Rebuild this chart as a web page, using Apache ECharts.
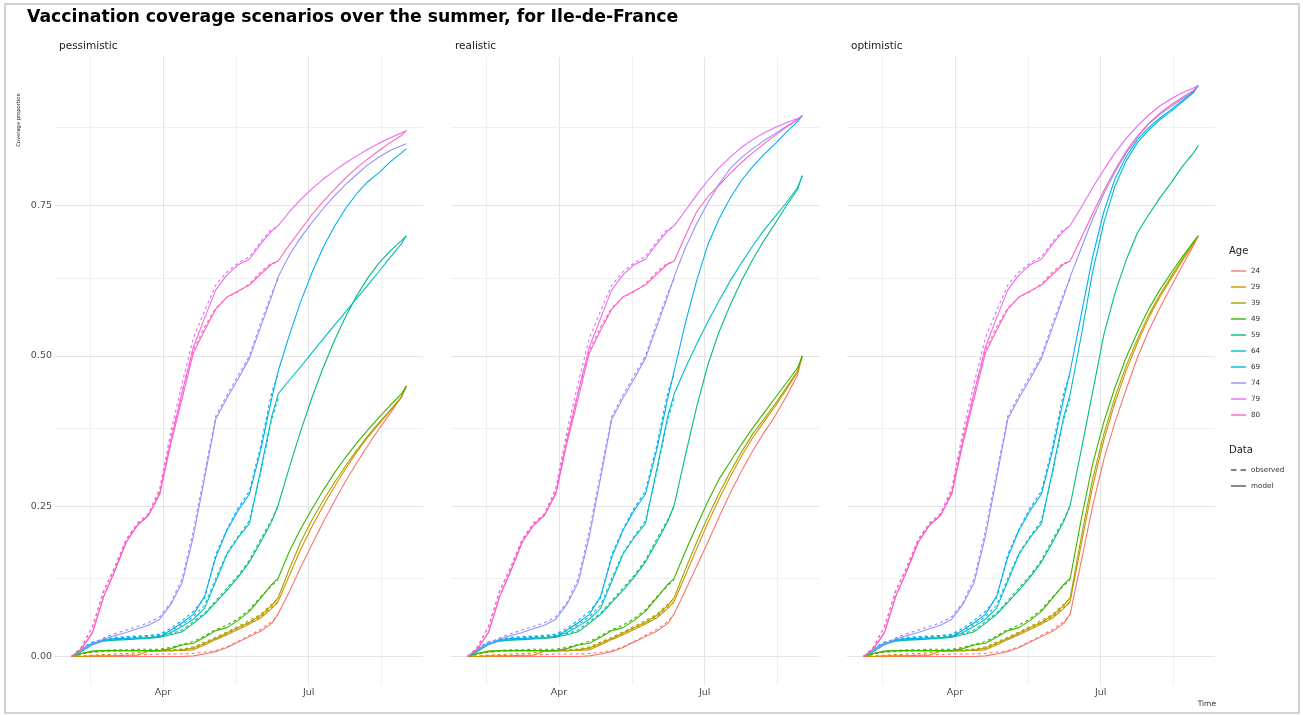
<!DOCTYPE html>
<html>
<head>
<meta charset="utf-8">
<title>Vaccination coverage scenarios</title>
<script src="https://cdn.jsdelivr.net/npm/echarts@6/dist/echarts.min.js"></script>
<style>
  html, body { margin: 0; padding: 0; background: #ffffff; }
  #chart { width: 1303px; height: 715px; }
</style>
</head>
<body>
<div id="chart"></div>
<script>
// Age groups and their ggplot-style hue colours
const ages = ['24', '29', '39', '49', '59', '64', '69', '74', '79', '80'];
const ageColors = ['#F8766D', '#D89000', '#A3A500', '#39B600', '#00BF7D',
                   '#00BFC4', '#00B0F6', '#9590FF', '#E76BF3', '#FF62BC'];
const scenarios = ['pessimistic', 'realistic', 'optimistic'];

// Dates of the observed period (model fitted on it) and of the projection
const histDates = ['2021-02-03', '2021-02-09', '2021-02-16', '2021-02-23', '2021-03-02',
                   '2021-03-09', '2021-03-16', '2021-03-23', '2021-03-30', '2021-04-06',
                   '2021-04-13', '2021-04-20', '2021-04-27', '2021-05-04', '2021-05-11',
                   '2021-05-18', '2021-05-25', '2021-06-01', '2021-06-08', '2021-06-12'];
const projDates = ['2021-06-19', '2021-06-26', '2021-07-03', '2021-07-10', '2021-07-17',
                   '2021-07-24', '2021-07-31', '2021-08-07', '2021-08-14', '2021-08-21',
                   '2021-08-28', '2021-08-31'];

// Model coverage over the observed period, one row per age group
const modelHistory = [
  [0, 0, 0, 0, 0, 0, 0, 0, 0, 0, 0, 0.001, 0.004, 0.008, 0.015, 0.024, 0.033, 0.042, 0.055, 0.071],
  [0, 0, 0.001, 0.001, 0.001, 0.002, 0.002, 0.009, 0.009, 0.01, 0.01, 0.011, 0.019, 0.028, 0.036, 0.045, 0.054, 0.064, 0.08, 0.092],
  [0, 0.005, 0.008, 0.009, 0.009, 0.009, 0.009, 0.009, 0.009, 0.009, 0.011, 0.014, 0.022, 0.03, 0.039, 0.048, 0.057, 0.068, 0.085, 0.098],
  [0, 0.005, 0.009, 0.01, 0.01, 0.01, 0.01, 0.01, 0.01, 0.013, 0.019, 0.022, 0.032, 0.043, 0.048, 0.06, 0.075, 0.097, 0.12, 0.13],
  [0, 0.008, 0.02, 0.026, 0.027, 0.028, 0.029, 0.03, 0.032, 0.036, 0.041, 0.055, 0.07, 0.09, 0.11, 0.132, 0.157, 0.19, 0.225, 0.252],
  [0, 0.01, 0.02, 0.026, 0.028, 0.029, 0.03, 0.031, 0.033, 0.04, 0.05, 0.062, 0.08, 0.125, 0.17, 0.198, 0.221, 0.31, 0.40, 0.437],
  [0, 0.012, 0.022, 0.027, 0.03, 0.03, 0.031, 0.031, 0.033, 0.044, 0.056, 0.07, 0.10, 0.165, 0.21, 0.243, 0.27, 0.343, 0.43, 0.475],
  [0, 0.011, 0.02, 0.029, 0.035, 0.04, 0.046, 0.052, 0.062, 0.087, 0.123, 0.2, 0.297, 0.395, 0.43, 0.462, 0.496, 0.548, 0.60, 0.632],
  [0, 0.012, 0.04, 0.1, 0.143, 0.19, 0.218, 0.235, 0.272, 0.36, 0.44, 0.515, 0.563, 0.61, 0.635, 0.652, 0.661, 0.686, 0.708, 0.717],
  [0, 0.012, 0.04, 0.1, 0.143, 0.19, 0.218, 0.235, 0.27, 0.355, 0.43, 0.505, 0.543, 0.578, 0.598, 0.608, 0.618, 0.636, 0.653, 0.658]
];

// Observed coverage, same dates
const observedHistory = [
  [0, 0, 0, 0.001, 0.002, 0.002, 0.003, 0.003, 0.004, 0.004, 0.004, 0.005, 0.007, 0.01, 0.016, 0.025, 0.035, 0.045, 0.058, 0.07],
  [0, 0.001, 0.002, 0.003, 0.004, 0.005, 0.006, 0.008, 0.01, 0.011, 0.012, 0.013, 0.021, 0.03, 0.038, 0.047, 0.056, 0.066, 0.082, 0.09],
  [0, 0.004, 0.007, 0.008, 0.009, 0.01, 0.01, 0.01, 0.011, 0.011, 0.012, 0.016, 0.024, 0.032, 0.041, 0.05, 0.06, 0.07, 0.087, 0.097],
  [0, 0.004, 0.008, 0.01, 0.011, 0.011, 0.012, 0.012, 0.012, 0.015, 0.02, 0.025, 0.034, 0.045, 0.052, 0.063, 0.078, 0.099, 0.118, 0.128],
  [0, 0.01, 0.022, 0.028, 0.03, 0.031, 0.032, 0.033, 0.035, 0.038, 0.044, 0.058, 0.072, 0.093, 0.114, 0.135, 0.16, 0.195, 0.228, 0.25],
  [0, 0.012, 0.022, 0.028, 0.03, 0.032, 0.033, 0.034, 0.036, 0.043, 0.053, 0.066, 0.085, 0.13, 0.172, 0.2, 0.226, 0.305, 0.395, 0.43],
  [0, 0.014, 0.024, 0.029, 0.032, 0.033, 0.034, 0.035, 0.037, 0.047, 0.06, 0.075, 0.097, 0.17, 0.212, 0.247, 0.275, 0.35, 0.44, 0.47],
  [0, 0.012, 0.022, 0.031, 0.038, 0.044, 0.05, 0.056, 0.066, 0.09, 0.13, 0.21, 0.305, 0.4, 0.435, 0.468, 0.5, 0.555, 0.605, 0.628],
  [0, 0.015, 0.05, 0.11, 0.15, 0.195, 0.222, 0.238, 0.28, 0.375, 0.455, 0.53, 0.575, 0.618, 0.64, 0.655, 0.665, 0.69, 0.712, 0.714],
  [0, 0.015, 0.05, 0.108, 0.148, 0.193, 0.22, 0.236, 0.275, 0.365, 0.44, 0.51, 0.548, 0.58, 0.598, 0.607, 0.62, 0.64, 0.655, 0.655]
];

// Projected coverage over the summer for each scenario
const projPessimistic = [
  [0.108, 0.148, 0.186, 0.223, 0.258, 0.291, 0.322, 0.351, 0.379, 0.405, 0.432, 0.45],
  [0.135, 0.178, 0.216, 0.25, 0.282, 0.312, 0.34, 0.365, 0.387, 0.409, 0.431, 0.45],
  [0.146, 0.19, 0.227, 0.259, 0.289, 0.317, 0.343, 0.367, 0.389, 0.41, 0.432, 0.45],
  [0.175, 0.212, 0.245, 0.276, 0.305, 0.331, 0.355, 0.377, 0.398, 0.418, 0.437, 0.45],
  [0.315, 0.375, 0.43, 0.48, 0.525, 0.565, 0.6, 0.63, 0.655, 0.675, 0.692, 0.70],
  [0.46, 0.482, 0.505, 0.528, 0.551, 0.573, 0.596, 0.618, 0.641, 0.664, 0.687, 0.70],
  [0.535, 0.59, 0.638, 0.68, 0.715, 0.745, 0.77, 0.79, 0.805, 0.823, 0.838, 0.845],
  [0.668, 0.697, 0.722, 0.745, 0.766, 0.785, 0.802, 0.818, 0.831, 0.842, 0.85, 0.853],
  [0.74, 0.76, 0.778, 0.794, 0.808, 0.821, 0.833, 0.844, 0.854, 0.863, 0.871, 0.875],
  [0.685, 0.71, 0.735, 0.757, 0.777, 0.796, 0.813, 0.828, 0.842, 0.855, 0.867, 0.875]
];
const projRealistic = [
  [0.11, 0.15, 0.19, 0.232, 0.272, 0.308, 0.342, 0.372, 0.40, 0.432, 0.468, 0.50],
  [0.135, 0.179, 0.222, 0.262, 0.299, 0.333, 0.364, 0.39, 0.416, 0.444, 0.473, 0.50],
  [0.145, 0.19, 0.232, 0.271, 0.307, 0.34, 0.37, 0.395, 0.42, 0.447, 0.475, 0.50],
  [0.175, 0.217, 0.258, 0.295, 0.324, 0.353, 0.38, 0.405, 0.43, 0.455, 0.48, 0.50],
  [0.335, 0.415, 0.485, 0.54, 0.585, 0.625, 0.66, 0.692, 0.72, 0.75, 0.777, 0.80],
  [0.48, 0.52, 0.557, 0.592, 0.625, 0.655, 0.683, 0.709, 0.732, 0.755, 0.78, 0.80],
  [0.555, 0.625, 0.685, 0.728, 0.763, 0.792, 0.815, 0.835, 0.853, 0.872, 0.89, 0.90],
  [0.68, 0.72, 0.755, 0.786, 0.812, 0.83, 0.845, 0.858, 0.87, 0.882, 0.893, 0.90],
  [0.742, 0.768, 0.792, 0.813, 0.831, 0.847, 0.86, 0.871, 0.88, 0.888, 0.895, 0.90],
  [0.70, 0.74, 0.765, 0.784, 0.804, 0.822, 0.838, 0.853, 0.867, 0.881, 0.893, 0.90]
];
const projOptimistic = [
  [0.16, 0.25, 0.328, 0.39, 0.445, 0.497, 0.542, 0.58, 0.615, 0.65, 0.684, 0.70],
  [0.188, 0.283, 0.36, 0.423, 0.476, 0.522, 0.563, 0.598, 0.628, 0.658, 0.687, 0.70],
  [0.2, 0.295, 0.37, 0.432, 0.484, 0.528, 0.568, 0.602, 0.632, 0.661, 0.689, 0.70],
  [0.23, 0.32, 0.39, 0.448, 0.498, 0.54, 0.578, 0.61, 0.638, 0.665, 0.69, 0.70],
  [0.345, 0.44, 0.535, 0.605, 0.66, 0.705, 0.735, 0.763, 0.788, 0.815, 0.838, 0.85],
  [0.535, 0.64, 0.722, 0.783, 0.825, 0.855, 0.876, 0.893, 0.907, 0.923, 0.938, 0.95],
  [0.57, 0.665, 0.74, 0.795, 0.832, 0.86, 0.88, 0.896, 0.91, 0.925, 0.94, 0.95],
  [0.68, 0.728, 0.77, 0.806, 0.838, 0.864, 0.886, 0.902, 0.915, 0.928, 0.941, 0.95],
  [0.748, 0.78, 0.81, 0.838, 0.862, 0.883, 0.901, 0.916, 0.928, 0.938, 0.946, 0.95],
  [0.697, 0.737, 0.775, 0.81, 0.841, 0.866, 0.887, 0.904, 0.918, 0.93, 0.942, 0.95]
];
const projections = [projPessimistic, projRealistic, projOptimistic];

// Axis breaks
const yLabelValues = [0, 0.25, 0.5, 0.75];
const yMinorValues = [0.125, 0.375, 0.625, 0.875];
const xLabelDates = ['2021-04-01', '2021-07-01'];
const xMinorDates = ['2021-02-14T12', '2021-05-16T12', '2021-08-15T12'];
const monthNames = ['Jan', 'Feb', 'Mar', 'Apr', 'May', 'Jun', 'Jul', 'Aug', 'Sep', 'Oct', 'Nov', 'Dec'];

function toTs(s) {
  const [datePart, hourPart] = s.split('T');
  const [y, m, d] = datePart.split('-').map(Number);
  return Date.UTC(y, m - 1, d, hourPart ? Number(hourPart) : 0);
}

// Scale limits with a 5% expansion on both sides
const tStart = toTs(histDates[0]);
const tEnd = toTs(projDates[projDates.length - 1]);
const xPad = (tEnd - tStart) * 0.05;
const xMin = tStart - xPad, xMax = tEnd + xPad;
const yTop = 0.95;
const yMin = -0.05 * yTop, yMax = yTop * 1.05;

const FONT = 'DejaVu Sans';
const panelLefts = [55, 451, 847];
const panelWidth = 368;

const grids = panelLefts.map(l => ({ left: l, top: 57, width: panelWidth, height: 628 }));

const xAxes = panelLefts.map((l, i) => ({
  type: 'value', gridIndex: i, min: xMin, max: xMax,
  axisLine: { show: false }, axisTick: { show: false }, splitLine: { show: false },
  axisLabel: {
    customValues: xLabelDates.map(toTs),
    formatter: v => monthNames[new Date(v).getUTCMonth()],
    color: '#4d4d4d', fontSize: 9.5, fontFamily: FONT, margin: 3
  }
}));

const yAxes = panelLefts.map((l, i) => ({
  type: 'value', gridIndex: i, min: yMin, max: yMax,
  axisLine: { show: false }, axisTick: { show: false }, splitLine: { show: false },
  axisLabel: {
    show: i === 0,
    customValues: yLabelValues,
    formatter: v => v.toFixed(2),
    color: '#4d4d4d', fontSize: 9.5, fontFamily: FONT, margin: 3
  }
}));

const series = [];

scenarios.forEach((sc, s) => {
  // panel grid lines
  const major = { color: '#e4e4e4', width: 1, type: 'solid' };
  const minor = { color: '#f0f0f0', width: 1, type: 'solid' };
  const gridLines = [];
  xLabelDates.forEach(d => gridLines.push({ xAxis: toTs(d), lineStyle: major }));
  xMinorDates.forEach(d => gridLines.push({ xAxis: toTs(d), lineStyle: minor }));
  yLabelValues.forEach(v => gridLines.push({ yAxis: v, lineStyle: major }));
  yMinorValues.forEach(v => gridLines.push({ yAxis: v, lineStyle: minor }));
  series.push({
    type: 'line', name: 'grid-' + sc, xAxisIndex: s, yAxisIndex: s,
    data: [[tStart, 0]], symbol: 'none', lineStyle: { opacity: 0 }, z: 1, silent: true,
    markLine: {
      silent: true, symbol: ['none', 'none'], label: { show: false },
      lineStyle: { type: 'solid' }, animation: false, data: gridLines
    }
  });

  ages.forEach((age, g) => {
    const modelValues = modelHistory[g].concat(projections[s][g]);
    const modelDates = histDates.concat(projDates);
    series.push({
      type: 'line', name: age, xAxisIndex: s, yAxisIndex: s,
      data: modelDates.map((d, k) => [toTs(d), modelValues[k]]),
      symbol: 'none', color: ageColors[g],
      lineStyle: { width: 1.1, color: ageColors[g] }, z: 10, silent: true
    });
    series.push({
      type: 'line', name: age, xAxisIndex: s, yAxisIndex: s,
      data: histDates.map((d, k) => [toTs(d), observedHistory[g][k]]),
      symbol: 'none', color: ageColors[g],
      lineStyle: { width: 1.1, color: ageColors[g], type: [3, 3] }, z: 10, silent: true
    });
  });
});

// entries for the line-type key
series.push({ type: 'line', name: 'observed', data: [], symbol: 'none', color: '#5a5a5a', xAxisIndex: 0, yAxisIndex: 0 });
series.push({ type: 'line', name: 'model', data: [], symbol: 'none', color: '#5a5a5a', xAxisIndex: 0, yAxisIndex: 0 });

const solidKey = 'path://M0,0M15,16M0,7.3h15v1.4h-15z';
const dashedKey = 'path://M0,0M15,16M0,7.3h5.5v1.4h-5.5zM9.5,7.3h5.5v1.4h-5.5z';

const option = {
  backgroundColor: '#ffffff',
  animation: false,
  title: [
    { text: 'Vaccination coverage scenarios over the summer, for Ile-de-France', left: 27, top: 9, padding: 0,
      textStyle: { fontFamily: FONT, fontSize: 17.3, fontWeight: 'bold', color: '#000' } },
    ...scenarios.map((sc, s) => ({
      text: sc, left: panelLefts[s] + 4, top: 41, padding: 0,
      textStyle: { fontFamily: FONT, fontSize: 10.5, fontWeight: 'normal', color: '#1a1a1a' }
    })),
    { text: 'Age', left: 1229, top: 246, padding: 0,
      textStyle: { fontFamily: FONT, fontSize: 10, fontWeight: 'normal', color: '#1a1a1a' } },
    { text: 'Data', left: 1229, top: 445, padding: 0,
      textStyle: { fontFamily: FONT, fontSize: 10, fontWeight: 'normal', color: '#1a1a1a' } }
  ],
  legend: [
    { data: ages.map(a => ({ name: a, icon: solidKey })), orient: 'vertical', left: 1231, top: 263,
      itemWidth: 15, itemHeight: 16, itemGap: 0, padding: 0, selectedMode: false,
      textStyle: { fontFamily: FONT, fontSize: 7.2, color: '#333' } },
    { data: [{ name: 'observed', icon: dashedKey }, { name: 'model', icon: solidKey }],
      orient: 'vertical', left: 1231, top: 462,
      itemWidth: 15, itemHeight: 16, itemGap: 0, padding: 0, selectedMode: false,
      textStyle: { fontFamily: FONT, fontSize: 7.2, color: '#333' } }
  ],
  grid: grids,
  xAxis: xAxes,
  yAxis: yAxes,
  series: series,
  graphic: [
    { type: 'rect', shape: { x: 5, y: 4, width: 1294, height: 709 }, silent: true,
      style: { fill: 'none', stroke: '#d2d2d2', lineWidth: 2 } },
    { type: 'text', x: 19, y: 120, rotation: Math.PI / 2, silent: true,
      style: { text: 'Coverage proportion', fontFamily: FONT, fontSize: 5.2, fill: '#1a1a1a',
               align: 'center', verticalAlign: 'middle' } },
    { type: 'text', x: 1216, y: 704, silent: true,
      style: { text: 'Time', fontFamily: FONT, fontSize: 7.5, fill: '#333',
               align: 'right', verticalAlign: 'middle' } }
  ]
};

const chart = echarts.init(document.getElementById('chart'), null, { renderer: 'canvas' });
chart.setOption(option);
</script>
</body>
</html>
